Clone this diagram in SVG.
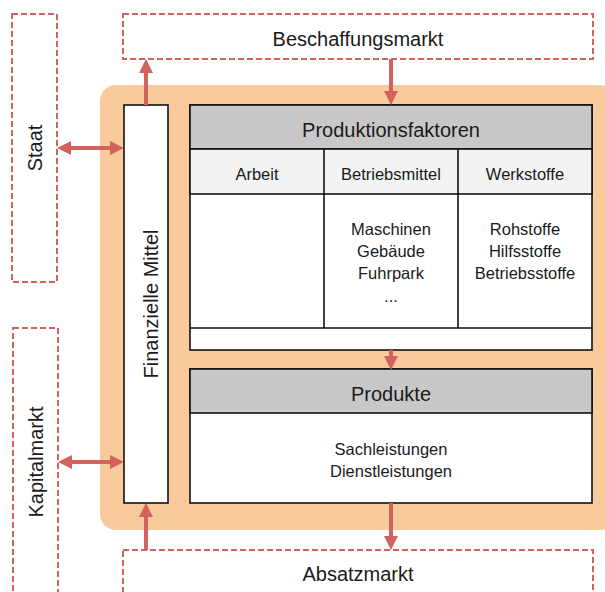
<svg xmlns="http://www.w3.org/2000/svg" width="605" height="592" viewBox="0 0 605 592">
<style>
.ext{fill:#fff;stroke:#D3625C;stroke-width:2;stroke-dasharray:6 3}
.cell{stroke:#111;stroke-width:1.6}
.t{font-family:"Liberation Sans",Arial,sans-serif;fill:#1a1a1a;text-anchor:middle}
.big{font-size:20px}
.sm{font-size:16.5px}
.conn line{stroke:#D3625C;stroke-width:4}
</style>
<defs>
<marker id="ah" markerUnits="userSpaceOnUse" markerWidth="14" markerHeight="14" refX="0" refY="7" orient="auto-start-reverse" viewBox="0 0 14 14">
<path d="M0,0 L14,7 L0,14 z" fill="#D3625C"/>
</marker>
</defs>
<rect id="unternehmen" x="100" y="85" width="515" height="445" rx="16" fill="#F9CA9B"/>
<g id="staat"><rect class="ext" x="12" y="14" width="45" height="268"/><text class="t big" transform="translate(42,148) rotate(-90)">Staat</text></g>
<g id="kapitalmarkt"><rect class="ext" x="13" y="328" width="45" height="280"/><text class="t big" transform="translate(43,462) rotate(-90)">Kapitalmarkt</text></g>
<g id="beschaffungsmarkt"><rect class="ext" x="123" y="14" width="470" height="45"/><text class="t big" x="358" y="46">Beschaffungsmarkt</text></g>
<g id="absatzmarkt"><rect class="ext" x="123" y="550" width="470" height="60"/><text class="t big" x="358" y="581">Absatzmarkt</text></g>
<g id="finanzielle-mittel"><rect class="cell" x="124" y="105" width="44" height="398" fill="#fff"/><text class="t big" transform="translate(158,304) rotate(-90)">Finanzielle Mittel</text></g>
<g id="produktionsfaktoren">
<rect class="cell" x="190" y="105" width="402" height="245" fill="#fff"/>
<rect class="cell" x="190" y="105" width="402" height="44" fill="#C8C8C8"/>
<rect class="cell" x="190" y="149" width="402" height="45" fill="#F2F3F2"/>
<line class="cell" x1="190" y1="328" x2="592" y2="328"/>
<line class="cell" x1="324" y1="149" x2="324" y2="328"/>
<line class="cell" x1="458" y1="149" x2="458" y2="328"/>
<text class="t big" x="391" y="137">Produktionsfaktoren</text>
<text class="t sm" x="257" y="180">Arbeit</text>
<text class="t sm" x="391" y="180">Betriebsmittel</text>
<text class="t sm" x="525" y="180">Werkstoffe</text>
<text class="t sm" x="391" y="235">Maschinen</text>
<text class="t sm" x="391" y="257">Gebäude</text>
<text class="t sm" x="391" y="279">Fuhrpark</text>
<text class="t sm" x="391" y="302">...</text>
<text class="t sm" x="525" y="235">Rohstoffe</text>
<text class="t sm" x="525" y="257">Hilfsstoffe</text>
<text class="t sm" x="525" y="279">Betriebsstoffe</text>
</g>
<g id="produkte">
<rect class="cell" x="190" y="369" width="402" height="134" fill="#fff"/>
<rect class="cell" x="190" y="369" width="402" height="44" fill="#C8C8C8"/>
<text class="t big" x="391" y="401">Produkte</text>
<text class="t sm" x="391" y="455">Sachleistungen</text>
<text class="t sm" x="391" y="477">Dienstleistungen</text>
</g>
<g class="conn" id="connectors">
<line x1="146" y1="105" x2="146" y2="73" marker-end="url(#ah)"/>
<line x1="391" y1="59" x2="391" y2="91" marker-end="url(#ah)"/>
<line x1="71" y1="148" x2="110" y2="148" marker-start="url(#ah)" marker-end="url(#ah)"/>
<line x1="72" y1="462" x2="110" y2="462" marker-start="url(#ah)" marker-end="url(#ah)"/>
<line x1="391" y1="350" x2="391" y2="356" marker-end="url(#ah)"/>
<line x1="391" y1="503" x2="391" y2="536" marker-end="url(#ah)"/>
<line x1="146" y1="550" x2="146" y2="517" marker-end="url(#ah)"/>
</g>
</svg>
